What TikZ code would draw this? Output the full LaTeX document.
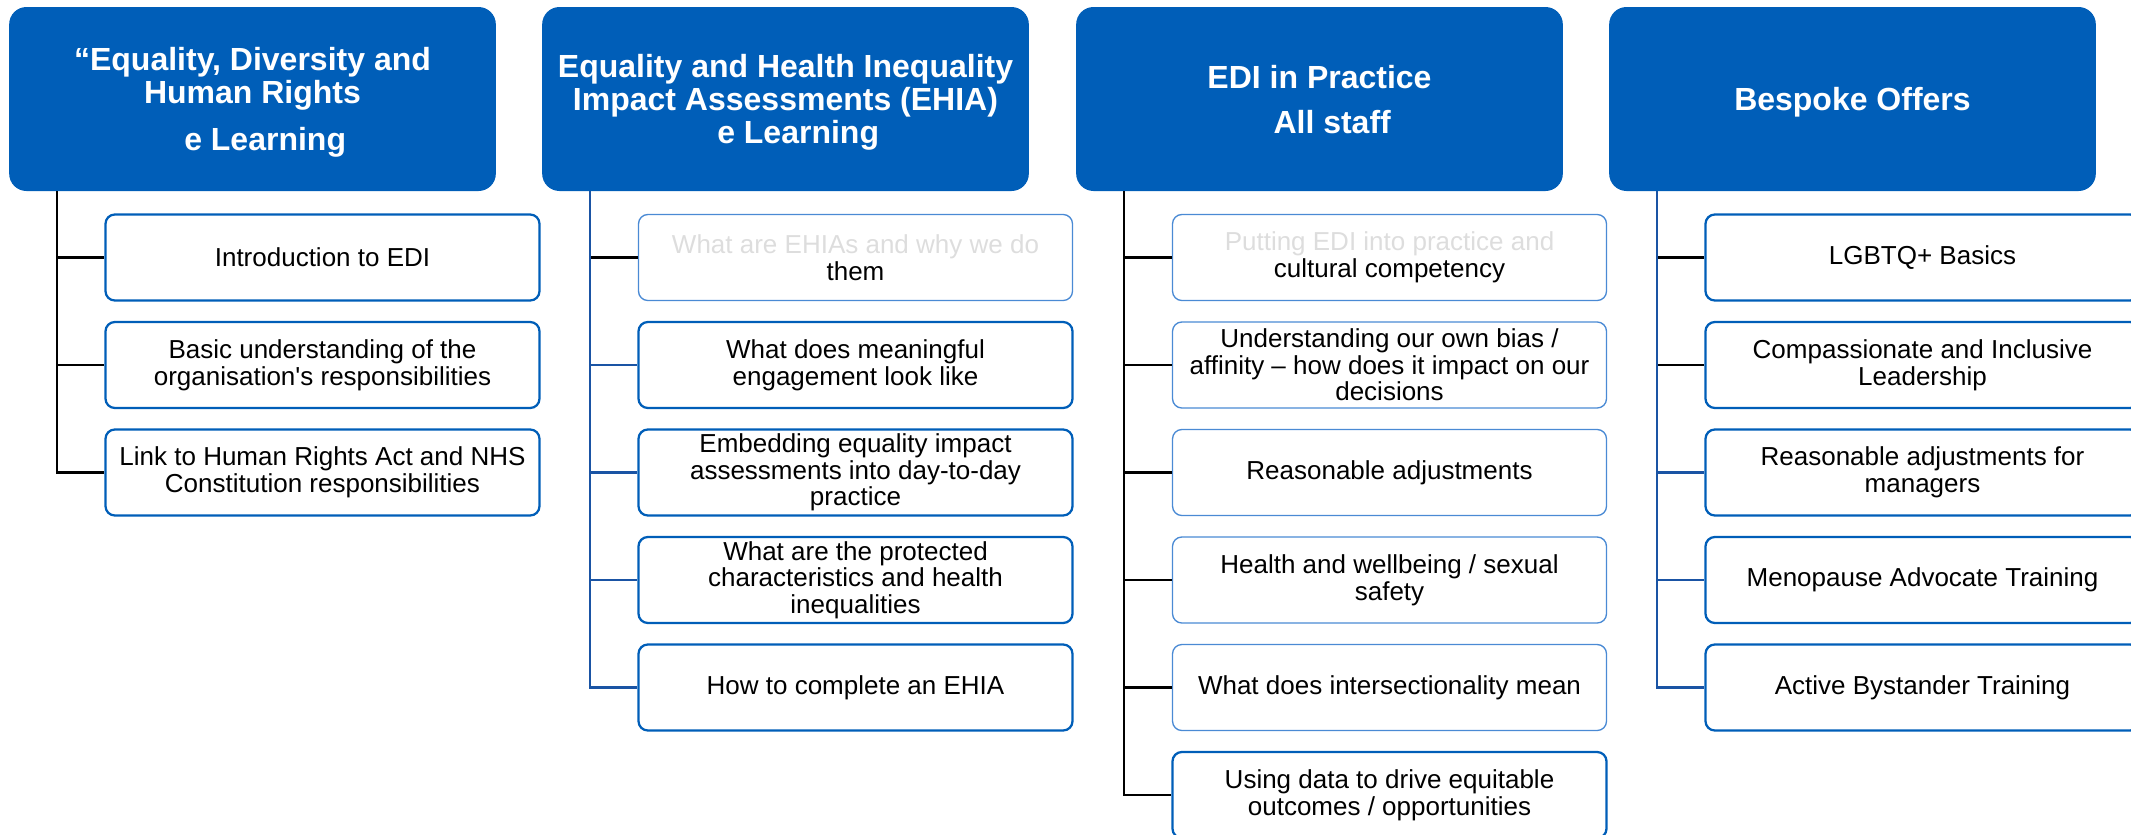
\documentclass[tikz,border=0pt]{standalone}
\usepackage{fontspec}
\setmainfont{Liberation Sans}
\usetikzlibrary{trees}

\definecolor{nhsblue}{HTML}{005EB8}
\definecolor{trunkblue}{HTML}{1A54A4}
\definecolor{softblue}{HTML}{4A8AD4}
\definecolor{fadegrey}{HTML}{DDDDDD}

\tikzset{
  head/.style={rectangle, rounded corners=13pt, fill=nhsblue, text=white,
    minimum width=365pt, minimum height=138pt, align=center, text depth=0pt,
    font=\bfseries\fontsize{24}{24.5}\selectfont},
  item/.style={rectangle, rounded corners=7pt, draw=nhsblue, line width=1.7pt,
    text=black, minimum width=325.5pt, minimum height=64.5pt, inner sep=2pt,
    align=center, font=\fontsize{19.5}{20}\selectfont},
  soft/.style={draw=softblue, line width=1pt},
  list/.style={grow via three points={one child at (70,158.5) and two children at (70,158.5) and (70,266)},
    edge from parent path={([xshift=36pt]\tikzparentnode.south west) |- (\tikzchildnode.west)}},
  edge from parent/.style={draw, line width=1.9pt},
}

\begin{document}
\begin{tikzpicture}[x=0.75pt, y=-0.75pt]
\useasboundingbox (0,0) rectangle (2131,835);
\clip (0,0) rectangle (2131,835);

% e-learning on equality and human rights
\node[head] (edi) at (252.5,99) {“Equality, Diversity and\\Human Rights\hspace*{12pt}\\[10.5pt]\hspace*{19pt}e Learning}
  [list]
  child {node[item] (edi1) {Introduction to EDI}}
  child {node[item] (edi2) {Basic understanding of the\\organisation\textquotesingle s responsibilities}}
  child {node[item] (edi3) {Link to Human Rights Act and NHS\\Constitution responsibilities}}
;

% impact assessments
\node[head] (ehia) at (785.5,99) {Equality and Health Inequality\\Impact Assessments (EHIA)\\\hspace*{19pt}e Learning}
  [list]
  child {node[item,soft] (ehia1) {\textcolor{fadegrey}{What are EHIAs and why we do}\\them}}
  child[trunkblue] {node[item] (ehia2) {What does meaningful\\engagement look like}}
  child[trunkblue] {node[item] (ehia3) {Embedding equality impact\\assessments into day-to-day\\practice}}
  child[trunkblue] {node[item] (ehia4) {What are the protected\\characteristics and health\\inequalities}}
  child[trunkblue] {node[item] (ehia5) {How to complete an EHIA}}
;

% practice sessions
\node[head] (prac) at (1319.5,99) {EDI in Practice\\[9.25pt]\hspace*{19pt}All staff}
  [list]
  child {node[item,soft] (prac1) {\textcolor{fadegrey}{Putting EDI into practice and}\\cultural competency}}
  child {node[item,soft] (prac2) {Understanding our own bias /\\affinity – how does it impact on our\\decisions}}
  child {node[item,soft] (prac3) {Reasonable adjustments}}
  child {node[item,soft] (prac4) {Health and wellbeing / sexual\\safety}}
  child {node[item,soft] (prac5) {What does intersectionality mean}}
  child {node[item] (prac6) {Using data to drive equitable\\outcomes / opportunities}}
;

% bespoke
\node[head] (offer) at (1852.5,99) {Bespoke Offers}
  [list]
  child {node[item] (offer1) {LGBTQ+ Basics}}
  child {node[item] (offer2) {Compassionate and Inclusive\\Leadership}}
  child[trunkblue] {node[item] (offer3) {Reasonable adjustments for\\managers}}
  child[trunkblue] {node[item] (offer4) {Menopause Advocate Training}}
  child[trunkblue] {node[item] (offer5) {Active Bystander Training}}
;
\end{tikzpicture}
\end{document}
